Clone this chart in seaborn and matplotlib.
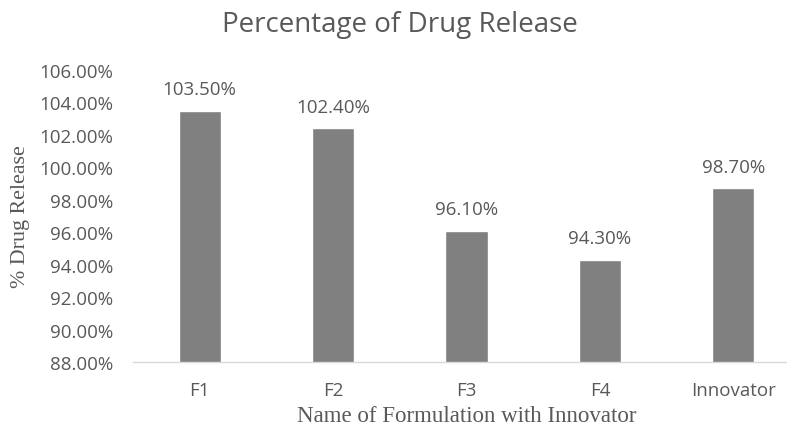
import pandas as pd
import matplotlib
matplotlib.use("Agg")
import matplotlib.pyplot as plt
import seaborn as sns
from matplotlib.ticker import FuncFormatter

# Data
formulations = ["F1", "F2", "F3", "F4", "Innovator"]
release = [103.5, 102.4, 96.1, 94.3, 98.7]

df = pd.DataFrame({"Formulation": formulations, "Release": release})

sns.set_style("white")
plt.rcParams['font.family'] = ['Open Sans', 'DejaVu Sans']

text_color = "#595959"
bar_color = "#808080"

fig = plt.figure(figsize=(7.87, 4.27), dpi=100)
ax = fig.add_axes([133 / 787, 64 / 427, 667 / 787, 292 / 427])

sns.barplot(data=df, x="Formulation", y="Release", color=bar_color,
            width=0.315, saturation=1, ax=ax)

ax.set_ylim(88, 106)
ax.set_yticks(range(88, 107, 2))
ax.yaxis.set_major_formatter(FuncFormatter(lambda v, p: f"{v:.2f}%"))

# Data labels
for bar, val in zip(ax.patches, release):
    ax.annotate(f"{val:.2f}%", (bar.get_x() + bar.get_width() / 2, val),
                xytext=(0, 9), textcoords="offset points",
                ha="center", va="bottom", fontsize=13.5, color=text_color)

for side in ["top", "right", "left"]:
    ax.spines[side].set_visible(False)
ax.spines["bottom"].set_color("#d9d9d9")
ax.spines["bottom"].set_linewidth(1)
ax.tick_params(axis="both", length=0, labelsize=13.5, colors=text_color)
ax.tick_params(axis="y", pad=14)
ax.tick_params(axis="x", pad=14)

ax.set_xlabel("Name of Formulation with Innovator", family="Liberation Serif",
              fontsize=16.5, color=text_color)
ax.set_ylabel("% Drug Release", family="Liberation Serif",
              fontsize=15.8, color=text_color)
ax.xaxis.set_label_coords(0.5, (427 - 417 - 64) / 292)
ax.yaxis.set_label_coords((20 - 133) / 667, 0.5)
ax.xaxis.label.set_va("center")
ax.yaxis.label.set_va("center")

fig.text(400 / 787, 1 - 25 / 427, "Percentage of Drug Release", ha="center",
         va="center", fontsize=20, color=text_color)

fig.savefig("out.png", dpi=100)
